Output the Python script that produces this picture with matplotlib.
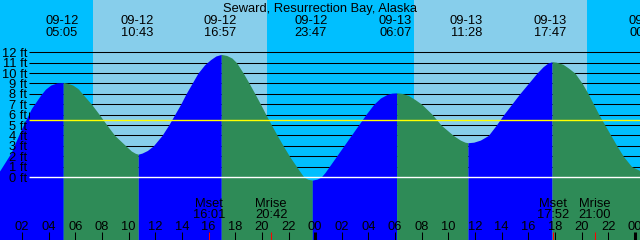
import matplotlib
matplotlib.use("Agg")
import matplotlib.pyplot as plt
from matplotlib import transforms

# Tide height (ft), hours counted from 09-12 00:00
hours = [0.0, 0.4, 1.15, 1.9, 2.7, 3.4, 3.75, 4.15, 4.6, 5.083,
         5.4, 5.8, 6.2, 6.53, 7.21, 7.8, 8.36, 8.95, 9.78, 10.2, 10.5, 10.717,
         11.0, 11.4, 11.85, 12.5, 13.0, 13.45, 13.9, 14.3, 14.75, 15.2, 15.7, 16.15, 16.55, 16.95,
         17.35, 17.75, 18.1, 18.6, 19.05, 19.48, 19.9, 20.3, 20.72, 21.15, 21.6, 22.07, 22.6,
         22.95, 23.15, 23.45, 23.783,
         24.15, 24.45, 24.75, 25.05, 25.6, 26.15, 26.7, 27.25, 27.8, 28.4, 28.9, 29.4, 29.75, 30.117,
         30.5, 31.0, 31.5, 32.0, 32.8, 33.45, 34.37, 34.9, 35.25, 35.467,
         35.9, 36.4, 37.0, 37.6, 38.15, 38.75, 39.35, 40.0, 40.65, 41.1, 41.45, 41.783,
         42.1, 42.6, 43.0, 43.5, 44.05, 44.5, 44.9, 45.3, 45.75, 46.2, 46.65, 47.13, 47.76, 48.45, 48.9]
heights = [0.0, 0.77, 2.3, 4.5, 6.6, 7.9, 8.45, 8.85, 9.05, 9.1,
           9.02, 8.85, 8.5, 8.0, 7.0, 6.0, 5.0, 4.0, 3.0, 2.5, 2.28, 2.2,
           2.3, 2.55, 3.0, 4.0, 5.0, 6.0, 7.0, 8.0, 9.0, 10.0, 10.8, 11.3, 11.65, 11.8,
           11.7, 11.45, 11.0, 10.0, 9.0, 8.0, 7.0, 6.0, 5.0, 4.0, 3.0, 2.0, 1.0,
           0.35, 0.0, -0.22, -0.3,
           -0.2, 0.0, 0.45, 1.0, 2.0, 3.0, 4.0, 5.0, 6.0, 7.0, 7.6, 7.95, 8.07, 8.1,
           8.05, 7.85, 7.45, 7.0, 6.0, 5.0, 4.0, 3.55, 3.35, 3.3,
           3.35, 3.55, 4.0, 5.0, 6.0, 7.0, 8.0, 9.0, 10.0, 10.6, 10.95, 11.1,
           11.05, 10.85, 10.5, 10.0, 9.0, 8.0, 7.0, 6.0, 5.0, 4.0, 3.0, 2.0, 1.0, 0.58, 0.35]

# High / low tide events
event_hours = [5.083, 10.717, 16.95, 23.783, 30.117, 35.467, 41.783, 48.9]
event_kinds = ["high", "low", "high", "low", "high", "low", "high", "low"]
event_dates = ["09-12", "09-12", "09-12", "09-12", "09-13", "09-13", "09-13", "09-14"]
event_times = ["05:05", "10:43", "16:57", "23:47", "06:07", "11:28", "17:47", "00:54"]

# Daylight (sunrise -> sunset)
sunrise_hours = [7.3, 31.4]
sunset_hours = [20.42, 44.37]

# Moon set / rise
moon_hours = [16.017, 20.7, 41.867, 45.0]
moon_names = ["Mset", "Mrise", "Mset", "Mrise"]
moon_times = ["16:01", "20:42", "17:52", "21:00"]

levels = list(range(0, 13))
mean_level = 5.45
marker_level = 6
hour_ticks = list(range(2, 49, 2))

title = "Seward, Resurrection Bay, Alaska"

# colours
NIGHT = "#00BFFF"
DAY = "#87CEEB"
FLOOD = "#0000FF"
EBB = "#2E8B57"

plt.rcParams["font.family"] = ["Liberation Sans", "DejaVu Sans"]
plt.rcParams["font.size"] = 9.3

W, H = 640, 240
px_per_hour = 13.32
px_per_ft = 10.39
x_min = 4.5 / px_per_hour
x_max = x_min + W / px_per_hour
y_max = 177 / px_per_ft
y_min = y_max - H / px_per_ft

fig = plt.figure(figsize=(W / 100, H / 100), dpi=100)
ax = fig.add_axes([0, 0, 1, 1])
ax.set_xlim(x_min, x_max)
ax.set_ylim(y_min, y_max)
ax.axis("off")

# night background, day bands
ax.axvspan(x_min, x_max, color=NIGHT, lw=0, zorder=0)
for a, b in zip(sunrise_hours, sunset_hours):
    ax.axvspan(a, b, color=DAY, lw=0, zorder=0)

# foot lines (behind the water)
line_start = x_min + 29 / px_per_hour
ax.hlines(levels[1:], line_start, x_max, colors="black", lw=0.75, zorder=1)

# water: blue while rising, green while falling
start = hours[0]
for t_end, kind in zip(event_hours, event_kinds):
    seg_x = [h for h in hours if start <= h <= t_end]
    seg_y = [v for h, v in zip(hours, heights) if start <= h <= t_end]
    color = FLOOD if kind == "high" else EBB
    ax.fill_between(seg_x, y_min - 1, seg_y, color=color, lw=0, antialiased=False, zorder=2)
    start = t_end

ax.hlines([mean_level], line_start, x_max, colors="yellow", lw=1.0, zorder=3)
ax.hlines([0], line_start, x_max, colors="white", lw=1.0, zorder=3)
ax.plot([line_start], [marker_level], marker="|", ms=5, mew=0.75, color="black", zorder=4)

# y labels
lab_tr = transforms.offset_copy(
    transforms.blended_transform_factory(ax.transAxes, ax.transData),
    fig=fig, x=0, y=-4.5, units="dots")
for lv in levels:
    ax.text(27 / W, lv, f"{lv} ft", ha="right", va="baseline", transform=lab_tr, zorder=5)

# event labels along the top
top_tr = transforms.offset_copy(
    transforms.blended_transform_factory(ax.transData, ax.transAxes),
    fig=fig, x=-1.5, y=0, units="dots")
for t, d, tm in zip(event_hours, event_dates, event_times):
    ax.text(t, 1 - 24 / H, d, ha="center", va="baseline", transform=top_tr, zorder=5)
    ax.text(t, 1 - 36 / H, tm, ha="center", va="baseline", transform=top_tr, zorder=5)

fig.text(0.5, 1 - 12 / H, title, ha="center", va="baseline")

# hour axis along the bottom
bot_tr = transforms.blended_transform_factory(ax.transData, ax.transAxes)
tick_top = 8 / H
for h in hour_ticks:
    wide = h % 24 == 0
    ax.vlines(h, 0, tick_top, colors="black", lw=2.2 if wide else 0.75,
              transform=bot_tr, zorder=4)
    ax.text(h, 1 - 230 / H, f"{h % 24:02d}", ha="center", va="baseline",
            transform=bot_tr, zorder=5)

for t, name, tm in zip(moon_hours, moon_names, moon_times):
    ax.vlines(t, 0, tick_top, colors="red", lw=0.75, transform=bot_tr, zorder=4)
    ax.text(t, 1 - 206.7 / H, name, ha="center", va="baseline", transform=bot_tr, zorder=5)
    ax.text(t, 1 - 218.3 / H, tm, ha="center", va="baseline", transform=bot_tr, zorder=5)

fig.savefig("out.png", dpi=100)
